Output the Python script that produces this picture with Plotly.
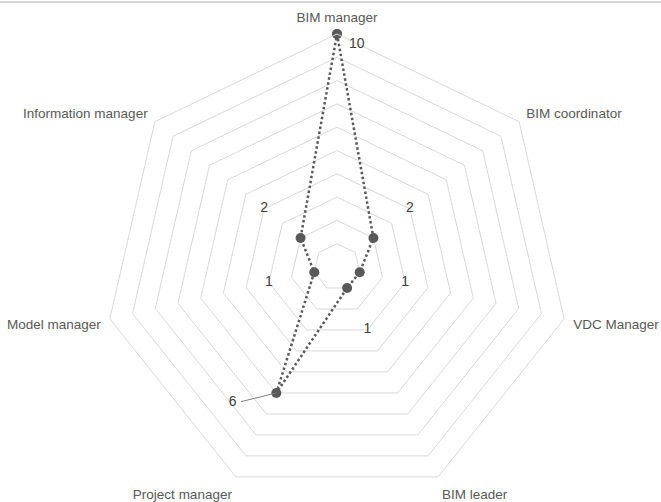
import plotly.graph_objects as go

# Roles and how many times each was reported
roles = ["BIM manager", "BIM coordinator", "VDC Manager", "BIM leader",
         "Project manager", "Model manager", "Information manager"]
counts = [10, 2, 1, 1, 6, 1, 2]

# Radial grid rings
ring_values = list(range(1, 11))

# Label placement relative to each point (radial units / degrees)
label_dr = [-0.4, 2, 2, 2, 1.35, 2, 2]
label_dtheta = [5.1, 0, 0, 0, 11.8, 0, 0]
# Leader from the "Project manager" point to its moved label
leader_idx = 4
leader_dr = 1.1
leader_dtheta = 9.8

GRID = "#d9d9d9"
SERIES = "#595959"
TEXT = "#595959"
FONT = "Liberation Sans, Arial, sans-serif"

step = 360 / len(roles)
angles = [i * step for i in range(len(roles))]

fig = go.Figure()

# Main series, closed polygon
fig.add_trace(go.Scatterpolar(
    r=counts + counts[:1],
    theta=roles + roles[:1],
    mode="lines+markers",
    line=dict(color=SERIES, width=2.5, dash="2.5px,2.5px"),
    marker=dict(color=SERIES, size=10),
    subplot="polar",
    hoverinfo="skip",
))

# Leader line for the moved label
fig.add_trace(go.Scatterpolar(
    r=[counts[leader_idx], counts[leader_idx] + leader_dr],
    theta=[angles[leader_idx], angles[leader_idx] + leader_dtheta],
    mode="lines",
    line=dict(color="#7f7f7f", width=1),
    subplot="polar2",
    hoverinfo="skip",
))

# Data labels
fig.add_trace(go.Scatterpolar(
    r=[v + d for v, d in zip(counts, label_dr)],
    theta=[a + d for a, d in zip(angles, label_dtheta)],
    mode="text",
    text=[str(v) for v in counts],
    textposition="middle center",
    textfont=dict(family=FONT, size=14, color="#404040"),
    subplot="polar2",
    hoverinfo="skip",
))

dom_x = [(337 - 233) / 661, (337 + 233) / 661]
dom_y = [2 / 502, 468 / 502]

fig.update_layout(
    width=661, height=502,
    margin=dict(l=0, r=0, t=0, b=0),
    paper_bgcolor="white",
    showlegend=False,
    hovermode=False,
    font=dict(family=FONT, color=TEXT),
    polar=dict(
        domain=dict(x=dom_x, y=dom_y),
        bgcolor="white",
        gridshape="linear",
        radialaxis=dict(
            range=[0, 10], tickvals=ring_values, showticklabels=False,
            showline=False, ticks="", gridcolor=GRID, gridwidth=1,
        ),
        angularaxis=dict(
            type="category", categoryorder="array", categoryarray=roles,
            direction="clockwise", rotation=90,
            showgrid=False, showline=True, linecolor=GRID, linewidth=1,
            ticks="outside", ticklen=6, tickcolor="rgba(0,0,0,0)",
            tickfont=dict(family=FONT, size=13.5, color=TEXT),
        ),
    ),
    polar2=dict(
        domain=dict(x=dom_x, y=dom_y),
        bgcolor="rgba(0,0,0,0)",
        radialaxis=dict(range=[0, 10], visible=False),
        angularaxis=dict(type="linear", thetaunit="degrees",
                         direction="clockwise", rotation=90, visible=False),
    ),
    shapes=[dict(type="line", xref="paper", yref="paper",
                 x0=0, x1=1, y0=0.996, y1=0.996,
                 line=dict(color="#c9c9c9", width=1.5))],
)

fig.write_html("out.html")
